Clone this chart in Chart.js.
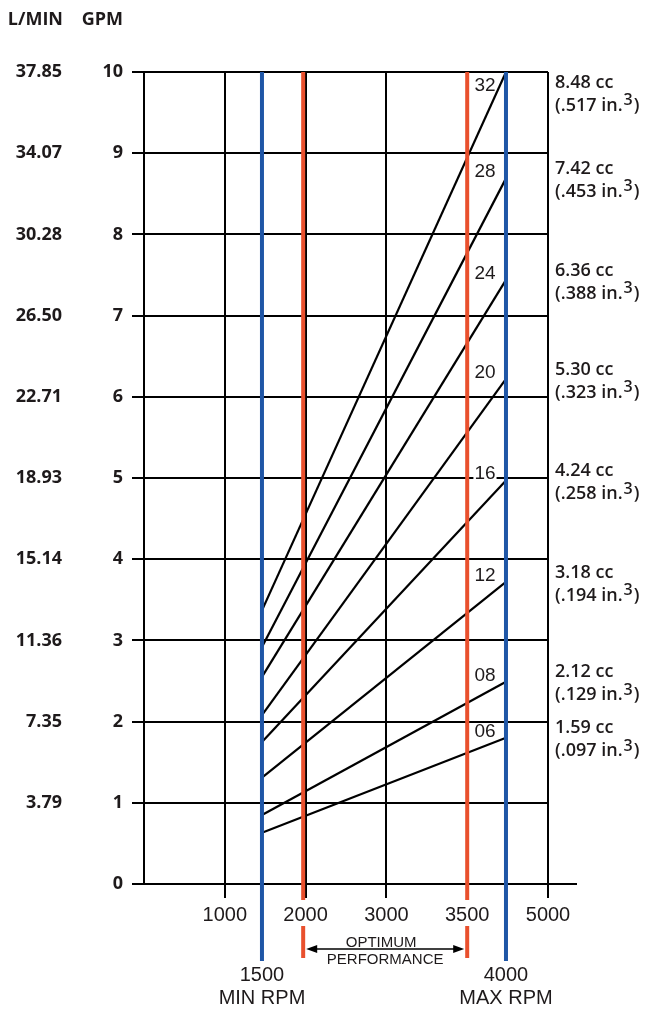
<!DOCTYPE html>
<html>
<head>
<meta charset="utf-8">
<script src="https://cdn.jsdelivr.net/npm/chart.js@4/dist/chart.umd.min.js"></script>
<style>
  html, body { margin: 0; padding: 0; background: #fff; }
  #wrap { width: 645px; height: 1009px; }
</style>
</head>
<body>
<div id="wrap"><canvas id="pumpChart" width="645" height="1009"></canvas></div>
<script>
// displacement codes and flow (GPM) at min / max rpm
const codes = ['06', '08', '12', '16', '20', '24', '28', '32'];
const flowAtMin = [0.63, 0.85, 1.31, 1.75, 2.08, 2.55, 2.92, 3.37];
const flowAtMax = [1.80, 2.49, 3.72, 4.97, 6.22, 7.44, 8.69, 10.0];
const ccLabels = ['1.59 cc', '2.12 cc', '3.18 cc', '4.24 cc', '5.30 cc', '6.36 cc', '7.42 cc', '8.48 cc'];
const inLabels = ['.097', '.129', '.194', '.258', '.323', '.388', '.453', '.517'];

// axes
const xTickLabels = ['', '1000', '2000', '3000', '3500', '5000'];
const lminLabels = ['', '3.79', '7.35', '11.36', '15.14', '18.93', '22.71', '26.50', '30.28', '34.07', '37.85'];

// rpm limits (blue) and optimum band (red), in x axis units as drawn
const rpmLimitX = [1460, 4480];
const rpmLimitLabels = ['1500', '4000'];
const rpmLimitNames = ['MIN RPM', 'MAX RPM'];
const optimumX = [1970, 4000];
const codeLabelX = 4220;

const INK = '#1e1a1b';
const BLUE = '#1f56a6';
const RED = '#e9502d';

const datasets = codes.map((c, i) => ({
    label: c,
    data: [{ x: rpmLimitX[0], y: flowAtMin[i] }, { x: rpmLimitX[1], y: flowAtMax[i] }],
    borderColor: '#000',
    borderWidth: 2.2,
    pointRadius: 0,
    fill: false,
}));

function codeLabelY(i) {
    return Math.min(flowAtMax[i], 9.75) + 0.08;
}

const decorations = {
    id: 'decorations',
    beforeDatasetsDraw(chart) {
        const { ctx, scales: { x, y } } = chart;
        ctx.save();
        ctx.font = '19px "Liberation Sans", Arial, sans-serif';
        ctx.fillStyle = '#fff';
        codes.forEach((c, i) => {
            const w = ctx.measureText(c).width;
            const px = x.getPixelForValue(codeLabelX);
            const py = y.getPixelForValue(codeLabelY(i));
            ctx.fillRect(px - w / 2 - 1, py - 8, w + 2, 16);
        });
        ctx.restore();
    },
    afterDatasetsDraw(chart) {
        const { ctx, chartArea, scales: { x, y } } = chart;
        const top = chartArea.top;
        const bottom = chartArea.bottom;
        ctx.save();

        // axis extension to the right
        ctx.strokeStyle = '#000';
        ctx.lineWidth = 2;
        ctx.beginPath();
        ctx.moveTo(chartArea.right, bottom);
        ctx.lineTo(chartArea.right + 29, bottom);
        ctx.stroke();

        // optimum band (red)
        ctx.strokeStyle = RED;
        ctx.lineWidth = 4;
        optimumX.forEach(v => {
            const px = x.getPixelForValue(v);
            ctx.beginPath();
            ctx.moveTo(px, top);
            ctx.lineTo(px, bottom + 16);
            ctx.moveTo(px, bottom + 42);
            ctx.lineTo(px, bottom + 74);
            ctx.stroke();
        });

        // rpm limits (blue)
        ctx.strokeStyle = BLUE;
        rpmLimitX.forEach(v => {
            const px = x.getPixelForValue(v);
            ctx.beginPath();
            ctx.moveTo(px, top);
            ctx.lineTo(px, bottom + 77);
            ctx.stroke();
        });

        // code labels on the lines
        ctx.fillStyle = INK;
        ctx.font = '19px "Liberation Sans", Arial, sans-serif';
        ctx.textAlign = 'center';
        ctx.textBaseline = 'middle';
        codes.forEach((c, i) => {
            ctx.fillText(c, x.getPixelForValue(codeLabelX), y.getPixelForValue(codeLabelY(i)));
        });

        // displacement labels on the right
        ctx.textAlign = 'left';
        const rx = chartArea.right + 7;
        codes.forEach((c, i) => {
            const py = y.getPixelForValue(codeLabelY(i)) - 3;
            ctx.font = '600 18px "Open Sans", sans-serif';
            ctx.fillText(ccLabels[i], rx, py);
            const t = '(' + inLabels[i] + ' in.';
            ctx.fillText(t, rx, py + 23);
            const w = ctx.measureText(t).width;
            ctx.font = '600 16px "Open Sans", sans-serif';
            ctx.fillText('3', rx + w + 1, py + 18);
            const w3 = ctx.measureText('3').width;
            ctx.font = '600 18px "Open Sans", sans-serif';
            ctx.fillText(')', rx + w + w3 + 2, py + 23);
        });

        // L/MIN labels and column headers
        ctx.font = 'bold 18px "Open Sans", sans-serif';
        ctx.textAlign = 'right';
        lminLabels.forEach((l, i) => {
            if (l) ctx.fillText(l, chartArea.left - 82, y.getPixelForValue(i));
        });
        ctx.fillText('L/MIN', chartArea.left - 81, 20);
        ctx.fillText('GPM', chartArea.left - 21, 20);

        // rpm limit names below the axis
        ctx.font = '20px "Liberation Sans", Arial, sans-serif';
        ctx.textAlign = 'center';
        rpmLimitX.forEach((v, i) => {
            const px = x.getPixelForValue(v);
            ctx.fillText(rpmLimitLabels[i], px, bottom + 91);
            ctx.fillText(rpmLimitNames[i], px, bottom + 114);
        });

        // optimum performance arrow
        const a = x.getPixelForValue(optimumX[0]) + 3;
        const b = x.getPixelForValue(optimumX[1]) - 3;
        const ay = bottom + 65;
        ctx.strokeStyle = '#000';
        ctx.fillStyle = '#000';
        ctx.lineWidth = 1.5;
        ctx.beginPath();
        ctx.moveTo(a + 8, ay);
        ctx.lineTo(b - 8, ay);
        ctx.stroke();
        [[a, 1], [b, -1]].forEach(([px, d]) => {
            ctx.beginPath();
            ctx.moveTo(px, ay);
            ctx.lineTo(px + 11 * d, ay - 4);
            ctx.lineTo(px + 11 * d, ay + 4);
            ctx.closePath();
            ctx.fill();
        });
        ctx.fillStyle = INK;
        ctx.font = '15px "Liberation Sans", Arial, sans-serif';
        ctx.fillText('OPTIMUM', (a + b) / 2 - 4, bottom + 59);
        ctx.fillText('PERFORMANCE', (a + b) / 2, bottom + 76);

        ctx.restore();
    }
};

new Chart(document.getElementById('pumpChart'), {
    type: 'line',
    data: { datasets },
    options: {
        responsive: false,
        animation: false,
        layout: { padding: { left: 0, top: 72, right: 97, bottom: 85 } },
        plugins: { legend: { display: false }, tooltip: { enabled: false } },
        scales: {
            x: {
                type: 'linear',
                min: 0,
                max: 5000,
                afterFit: (scale) => { scale.height = 40; },
                ticks: {
                    stepSize: 1000,
                    autoSkip: false,
                    maxRotation: 0,
                    padding: 5,
                    color: INK,
                    font: { family: '"Liberation Sans", Arial, sans-serif', size: 20 },
                    callback: (value, index) => xTickLabels[index],
                },
                grid: {
                    color: '#000',
                    lineWidth: 2,
                    tickLength: 14,
                    tickColor: (ctx) => ctx.index === 0 ? 'rgba(0,0,0,0)' : '#000',
                },
                border: { color: '#000', width: 2 },
            },
            y: {
                min: 0,
                max: 10,
                afterFit: (scale) => { scale.width = 144; },
                ticks: {
                    stepSize: 1,
                    padding: 9,
                    color: INK,
                    font: { family: '"Open Sans", sans-serif', size: 18, weight: 'bold' },
                },
                grid: { color: '#000', lineWidth: 2, tickLength: 12 },
                border: { color: '#000', width: 2 },
            },
        },
    },
    plugins: [decorations],
});
</script>
</body>
</html>
